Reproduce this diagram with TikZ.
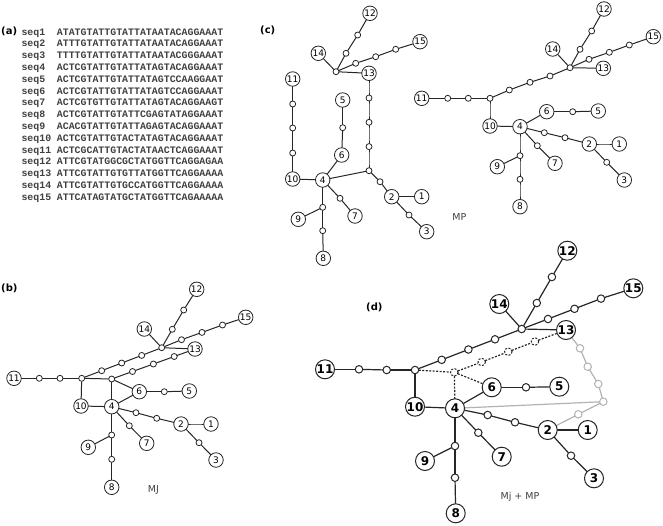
\documentclass[tikz,border=0pt]{standalone}
\usepackage{fontspec}
\setsansfont{DejaVu Sans}
\newfontfamily\seqfont{Liberation Mono}
\usepackage{xcolor}
\usepackage{tikz}
\usepackage{tikz-network}

\SetDefaultUnit{pt}
\tikzset{
  panellabel/.style={font=\sffamily\bfseries\fontsize{10}{10}\selectfont, anchor=west, inner sep=0pt},
  methodlabel/.style={font=\sffamily\fontsize{9.5}{10}\selectfont, text=black!75, inner sep=0pt},
  seqrow/.style={font=\seqfont\bfseries\fontsize{9.9}{11.8}\selectfont, text=black!75, anchor=base west, inner sep=0pt},
  mpdash/.style={dash pattern=on 2pt off 1.5pt},
  mjgray/.style={draw=black!30}
}

\begin{document}
\begin{tikzpicture}[x=1pt,y=1pt]
\useasboundingbox (0,0) rectangle (663,-525);

% (a) sequences
\node[panellabel] (la) at (1,-31.5) {(a)};
\node[seqrow] (seq1) at (21.3,-35.1) {\makebox[35.4pt][l]{seq1}ATATGTATTGTATTATAATACAGGAAAT};
\node[seqrow] (seq2) at (21.3,-46.9) {\makebox[35.4pt][l]{seq2}ATTTGTATTGTATTATAATACAGGAAAT};
\node[seqrow] (seq3) at (21.3,-58.7) {\makebox[35.4pt][l]{seq3}TTTTGTATTGTATTATAATACGGGAAAT};
\node[seqrow] (seq4) at (21.3,-70.5) {\makebox[35.4pt][l]{seq4}ACTCGTATTGTATTATAGTACAGGAAAT};
\node[seqrow] (seq5) at (21.3,-82.3) {\makebox[35.4pt][l]{seq5}ACTCGTATTGTATTATAGTCCAAGGAAT};
\node[seqrow] (seq6) at (21.3,-94.1) {\makebox[35.4pt][l]{seq6}ACTCGTATTGTATTATAGTCCAGGAAAT};
\node[seqrow] (seq7) at (21.3,-105.9) {\makebox[35.4pt][l]{seq7}ACTCGTGTTGTATTATAGTACAGGAAGT};
\node[seqrow] (seq8) at (21.3,-117.7) {\makebox[35.4pt][l]{seq8}ACTCGTATTGTATTCGAGTATAGGAAAT};
\node[seqrow] (seq9) at (21.3,-129.5) {\makebox[35.4pt][l]{seq9}ACACGTATTGTATTAGAGTACAGGAAAT};
\node[seqrow] (seq10) at (21.3,-141.3) {\makebox[35.4pt][l]{seq10}ACTCGTATTGTACTATAGTACAGGAAAT};
\node[seqrow] (seq11) at (21.3,-153.1) {\makebox[35.4pt][l]{seq11}ACTCGCATTGTACTATAACTCAGGAAAT};
\node[seqrow] (seq12) at (21.3,-164.9) {\makebox[35.4pt][l]{seq12}ATTCGTATGGCGCTATGGTTCAGGAGAA};
\node[seqrow] (seq13) at (21.3,-176.7) {\makebox[35.4pt][l]{seq13}ATTCGTATTGTGTTATGGTTCAGGAAAA};
\node[seqrow] (seq14) at (21.3,-188.5) {\makebox[35.4pt][l]{seq14}ATTCGTATTGTGCCATGGTTCAGGAAAA};
\node[seqrow] (seq15) at (21.3,-200.3) {\makebox[35.4pt][l]{seq15}ATTCATAGTATGCTATGGTTCAGAAAAA};

\SetVertexStyle[Shape=circle, MinSize=14.5pt, LineWidth=0.8pt, LineColor=black!85, FillColor=white, TextFont=\sffamily\fontsize{9}{9}\selectfont, TextColor=black, InnerSep=0pt, OuterSep=0pt]
\SetEdgeStyle[LineWidth=1pt, Color=black!85]

% (c) MP, left
\node[panellabel] (lc) at (260,-30) {(c)};
\Vertex[x=292.7, y=-79, label=11]{c11}
\Vertex[x=292.7, y=-104, size=6]{cs1}
\Vertex[x=292.7, y=-128, size=6]{cs2}
\Vertex[x=292.7, y=-153, size=6]{cs3}
\Vertex[x=292.7, y=-179, label=10]{c10}
\Vertex[x=322.7, y=-180, label=4]{c4}
\Vertex[x=342.7, y=-100, label=5]{c5}
\Vertex[x=342.7, y=-127.7, size=6]{cs4}
\Vertex[x=341.7, y=-155, label=6]{c6}
\Vertex[x=369, y=-73.3, label=13]{c13}
\Vertex[x=369, y=-98, size=6]{cs5}
\Vertex[x=369, y=-122.3, size=6]{cs6}
\Vertex[x=369, y=-146.6, size=6]{cs7}
\Vertex[x=369, y=-170.7, size=6]{cJ}
\Vertex[x=380, y=-181.7, size=6]{cs8}
\Vertex[x=391.7, y=-196.7, label=2]{c2}
\Vertex[x=421.7, y=-196.7, label=1]{c1}
\Vertex[x=409, y=-215, size=6]{cs9}
\Vertex[x=426.7, y=-231.7, label=3]{c3}
\Vertex[x=340, y=-198.3, size=6]{cs10}
\Vertex[x=355, y=-216, label=7]{c7}
\Vertex[x=322.7, y=-207.3, size=6]{cs11}
\Vertex[x=298.3, y=-219.3, label=9]{c9}
\Vertex[x=322.7, y=-230.7, size=6]{cs12}
\Vertex[x=323.3, y=-258.3, label=8]{c8}
\Vertex[x=318.3, y=-53.3, label=14]{c14}
\Vertex[x=336, y=-71.7, size=6]{cH}
\Vertex[x=346, y=-53.3, size=6]{cs13}
\Vertex[x=357.7, y=-35, size=6]{cs14}
\Vertex[x=370, y=-13.3, label=12]{c12}
\Vertex[x=355.7, y=-63.3, size=6]{cs15}
\Vertex[x=375.7, y=-56.7, size=6]{cs16}
\Vertex[x=395.7, y=-49.3, size=6]{cs17}
\Vertex[x=420, y=-41.7, label=15]{c15}
\Edge(c11)(cs1)
\Edge(cs1)(cs2)
\Edge(cs2)(cs3)
\Edge(cs3)(c10)
\Edge(c10)(c4)
\Edge(c4)(c6)
\Edge(c6)(cs4)
\Edge(cs4)(c5)
\Edge(c4)(cJ)
\Edge(cJ)(cs7)
\Edge(cs7)(cs6)
\Edge(cs6)(cs5)
\Edge(cs5)(c13)
\Edge(cJ)(cs8)
\Edge(cs8)(c2)
\Edge(c2)(c1)
\Edge(c2)(cs9)
\Edge(cs9)(c3)
\Edge(c4)(cs10)
\Edge(cs10)(c7)
\Edge(c4)(cs11)
\Edge(cs11)(c9)
\Edge(cs11)(cs12)
\Edge(cs12)(c8)
\Edge(c13)(cH)
\Edge(cH)(c14)
\Edge(cH)(cs13)
\Edge(cs13)(cs14)
\Edge(cs14)(c12)
\Edge(cH)(cs15)
\Edge(cs15)(cs16)
\Edge(cs16)(cs17)
\Edge(cs17)(c15)

% (c) MP, right
\Vertex[x=421.7, y=-98.3, label=11]{r11}
\Vertex[x=447.7, y=-98.3, size=6]{rs1}
\Vertex[x=468.3, y=-98.3, size=6]{rs2}
\Vertex[x=490, y=-98.3, size=6]{rK}
\Vertex[x=509.3, y=-90, size=6]{rs3}
\Vertex[x=530, y=-82.3, size=6]{rs4}
\Vertex[x=550, y=-76, size=6]{rs5}
\Vertex[x=570, y=-67.7, size=6]{rH}
\Vertex[x=552.7, y=-49, label=14]{r14}
\Vertex[x=603.3, y=-68.3, label=13]{r13}
\Vertex[x=580, y=-49.3, size=6]{rs6}
\Vertex[x=591.7, y=-31, size=6]{rs7}
\Vertex[x=604, y=-9, label=12]{r12}
\Vertex[x=589, y=-59.3, size=6]{rs8}
\Vertex[x=609.3, y=-52.3, size=6]{rs9}
\Vertex[x=629.3, y=-45, size=6]{rs10}
\Vertex[x=653.3, y=-36.7, label=15]{r15}
\Vertex[x=490, y=-126, label=10]{r10}
\Vertex[x=520, y=-126.7, label=4]{r4}
\Vertex[x=546.7, y=-111.7, label=6]{r6}
\Vertex[x=572.7, y=-111.7, size=6]{rs11}
\Vertex[x=598.3, y=-111, label=5]{r5}
\Vertex[x=544.3, y=-132.7, size=6]{rs12}
\Vertex[x=565, y=-137.7, size=6]{rs13}
\Vertex[x=589.3, y=-144, label=2]{r2}
\Vertex[x=619.3, y=-144, label=1]{r1}
\Vertex[x=606.7, y=-162.3, size=6]{rs14}
\Vertex[x=624.3, y=-180, label=3]{r3}
\Vertex[x=537.3, y=-145.7, size=6]{rs15}
\Vertex[x=555, y=-163.3, label=7]{r7}
\Vertex[x=520, y=-155.7, size=6]{rs16}
\Vertex[x=497.3, y=-166.7, label=9]{r9}
\Vertex[x=520, y=-179.3, size=6]{rs17}
\Vertex[x=520, y=-206.7, label=8]{r8}
\Edge(r11)(rs1)
\Edge(rs1)(rs2)
\Edge(rs2)(rK)
\Edge(rK)(r10)
\Edge(rK)(rs3)
\Edge(rs3)(rs4)
\Edge(rs4)(rs5)
\Edge(rs5)(rH)
\Edge(rH)(r14)
\Edge(rH)(r13)
\Edge(rH)(rs6)
\Edge(rs6)(rs7)
\Edge(rs7)(r12)
\Edge(rH)(rs8)
\Edge(rs8)(rs9)
\Edge(rs9)(rs10)
\Edge(rs10)(r15)
\Edge(r10)(r4)
\Edge(r4)(r6)
\Edge(r6)(rs11)
\Edge(rs11)(r5)
\Edge(r4)(rs12)
\Edge(rs12)(rs13)
\Edge(rs13)(r2)
\Edge(r2)(r1)
\Edge(r2)(rs14)
\Edge(rs14)(r3)
\Edge(r4)(rs15)
\Edge(rs15)(r7)
\Edge(r4)(rs16)
\Edge(rs16)(r9)
\Edge(rs16)(rs17)
\Edge(rs17)(r8)
\node[methodlabel] (lmp) at (459.3,-216.7) {MP};

% (b) MJ
\node[panellabel] (lb) at (1,-288) {(b)};
\Vertex[x=14, y=-378.3, label=11]{b11}
\Vertex[x=39.3, y=-378.3, size=6]{bs1}
\Vertex[x=60, y=-378.3, size=6]{bs2}
\Vertex[x=81.7, y=-378.3, size=6]{bK}
\Vertex[x=101.7, y=-370.7, size=6]{bs3}
\Vertex[x=121.7, y=-363, size=6]{bs4}
\Vertex[x=141.7, y=-355.4, size=6]{bs5}
\Vertex[x=161.7, y=-347.7, size=6]{bH}
\Vertex[x=144.3, y=-329, label=14]{b14}
\Vertex[x=195, y=-349, label=13]{b13}
\Vertex[x=172.3, y=-329.3, size=6]{bs6}
\Vertex[x=183.7, y=-310, size=6]{bs7}
\Vertex[x=196.7, y=-289.3, label=12]{b12}
\Vertex[x=181.5, y=-339.7, size=6]{bs8}
\Vertex[x=202, y=-332.4, size=6]{bs9}
\Vertex[x=222.5, y=-325, size=6]{bs10}
\Vertex[x=245.7, y=-317.3, label=15]{b15}
\Vertex[x=111.7, y=-379, size=6]{bM}
\Vertex[x=132.5, y=-371.5, size=6]{bs11}
\Vertex[x=153.4, y=-364, size=6]{bs12}
\Vertex[x=174.2, y=-356.5, size=6]{bs13}
\Vertex[x=81, y=-406, label=10]{b10}
\Vertex[x=111.7, y=-406.7, label=4]{b4}
\Vertex[x=139.3, y=-391.7, label=6]{b6}
\Vertex[x=164.3, y=-391.7, size=6]{bs14}
\Vertex[x=189.3, y=-391, label=5]{b5}
\Vertex[x=136, y=-412.7, size=6]{bs15}
\Vertex[x=156.7, y=-418.3, size=6]{bs16}
\Vertex[x=181, y=-424, label=2]{b2}
\Vertex[x=211, y=-424, label=1]{b1}
\Vertex[x=199, y=-442.7, size=6]{bs17}
\Vertex[x=216, y=-460, label=3]{b3}
\Vertex[x=129.3, y=-425.7, size=6]{bs18}
\Vertex[x=146.7, y=-443.3, label=7]{b7}
\Vertex[x=111.7, y=-435, size=6]{bs19}
\Vertex[x=88.3, y=-447.3, label=9]{b9}
\Vertex[x=111.7, y=-459.3, size=6]{bs20}
\Vertex[x=111.7, y=-487.3, label=8]{b8}
\Edge(b11)(bs1)
\Edge(bs1)(bs2)
\Edge(bs2)(bK)
\Edge(bK)(b10)
\Edge(bK)(bs3)
\Edge(bs3)(bs4)
\Edge(bs4)(bs5)
\Edge(bs5)(bH)
\Edge(bH)(b14)
\Edge(bH)(b13)
\Edge(bH)(bs6)
\Edge(bs6)(bs7)
\Edge(bs7)(b12)
\Edge(bH)(bs8)
\Edge(bs8)(bs9)
\Edge(bs9)(bs10)
\Edge(bs10)(b15)
\Edge(bK)(bM)
\Edge(bM)(b6)
\Edge(bM)(b4)
\Edge(bM)(bs11)
\Edge(bs11)(bs12)
\Edge(bs12)(bs13)
\Edge(bs13)(b13)
\Edge(b10)(b4)
\Edge(b4)(b6)
\Edge(b6)(bs14)
\Edge(bs14)(b5)
\Edge(b4)(bs15)
\Edge(bs15)(bs16)
\Edge(bs16)(b2)
\Edge(b2)(b1)
\Edge(b2)(bs17)
\Edge(bs17)(b3)
\Edge(b4)(bs18)
\Edge(bs18)(b7)
\Edge(b4)(bs19)
\Edge(bs19)(b9)
\Edge(bs19)(bs20)
\Edge(bs20)(b8)
\node[methodlabel] (lmj) at (153.3,-490) {MJ};

% (d) MJ + MP
\SetVertexStyle[Shape=circle, MinSize=19pt, LineWidth=1pt, LineColor=black!85, FillColor=white, TextFont=\sffamily\bfseries\fontsize{12}{12}\selectfont, TextColor=black, InnerSep=0pt, OuterSep=0pt]
\SetEdgeStyle[LineWidth=1.2pt, Color=black!85]
\node[panellabel] (ld) at (366,-307) {(d)};
\Vertex[x=325, y=-369.3, label=11]{d11}
\Vertex[x=359, y=-369.3, size=7.5]{ds1}
\Vertex[x=386.7, y=-370, size=7.5]{ds2}
\Vertex[x=415, y=-370, size=7.5]{dK}
\Vertex[x=441.7, y=-359.8, size=7.5]{ds3}
\Vertex[x=468.4, y=-349.5, size=7.5]{ds4}
\Vertex[x=495, y=-339.3, size=7.5]{ds5}
\Vertex[x=521.7, y=-329, size=7.5]{dH}
\Vertex[x=499.3, y=-304, label=14]{d14}
\Vertex[x=566, y=-330, label=13]{d13}
\Vertex[x=536.8, y=-303, size=7.5]{ds6}
\Vertex[x=551.9, y=-277, size=7.5]{ds7}
\Vertex[x=567.3, y=-250.7, label=12]{d12}
\Vertex[x=548, y=-319, size=7.5]{ds8}
\Vertex[x=574.5, y=-308.8, size=7.5]{ds9}
\Vertex[x=601, y=-298.6, size=7.5]{ds10}
\Vertex[x=633.3, y=-288.3, label=15]{d15}
\Vertex[x=454.3, y=-372.3, size=7.5, style={mpdash}]{dM}
\Vertex[x=481.7, y=-362, size=7.5, style={mpdash}]{ds11}
\Vertex[x=508.3, y=-351.7, size=7.5, style={mpdash}]{ds12}
\Vertex[x=535, y=-341.5, size=7.5, style={mpdash}]{ds13}
\Vertex[x=415, y=-406.7, label=10]{d10}
\Vertex[x=455, y=-408.3, label=4]{d4}
\Vertex[x=491.7, y=-387.3, label=6]{d6}
\Vertex[x=526, y=-387.3, size=7.5]{ds14}
\Vertex[x=559.3, y=-386.7, label=5]{d5}
\Vertex[x=487.7, y=-415, size=7.5]{ds15}
\Vertex[x=515, y=-422.3, size=7.5]{ds16}
\Vertex[x=547.7, y=-430, label=2]{d2}
\Vertex[x=587.7, y=-430, label=1]{d1}
\Vertex[x=571, y=-455.7, size=7.5]{ds17}
\Vertex[x=594, y=-478.3, label=3]{d3}
\Vertex[x=478.3, y=-432.7, size=7.5]{ds18}
\Vertex[x=501.7, y=-456.7, label=7]{d7}
\Vertex[x=455, y=-446, size=7.5]{ds19}
\Vertex[x=425, y=-461, label=9]{d9}
\Vertex[x=455, y=-477.7, size=7.5]{ds20}
\Vertex[x=455.7, y=-513.3, label=8]{d8}
\Vertex[x=580, y=-348.3, size=7.5, style={mjgray}]{dg1}
\Vertex[x=587.7, y=-366.7, size=7.5, style={mjgray}]{dg2}
\Vertex[x=598.3, y=-384, size=7.5, style={mjgray}]{dg3}
\Vertex[x=603.3, y=-401.7, size=7.5, style={mjgray}]{dG}
\Vertex[x=578.3, y=-414.3, size=7.5, style={mjgray}]{dg4}
\Edge(d11)(ds1)
\Edge(ds1)(ds2)
\Edge(ds2)(dK)
\Edge(dK)(d10)
\Edge(dK)(ds3)
\Edge(ds3)(ds4)
\Edge(ds4)(ds5)
\Edge(ds5)(dH)
\Edge(dH)(d14)
\Edge(dH)(d13)
\Edge(dH)(ds6)
\Edge(ds6)(ds7)
\Edge(ds7)(d12)
\Edge(dH)(ds8)
\Edge(ds8)(ds9)
\Edge(ds9)(ds10)
\Edge(ds10)(d15)
\Edge[style={mpdash}](dK)(dM)
\Edge[style={mpdash}](dM)(d6)
\Edge[style={mpdash}](dM)(d4)
\Edge[style={mpdash}](dM)(ds11)
\Edge[style={mpdash}](ds11)(ds12)
\Edge[style={mpdash}](ds12)(ds13)
\Edge[style={mpdash}](ds13)(d13)
\Edge(d10)(d4)
\Edge(d4)(d6)
\Edge(d6)(ds14)
\Edge(ds14)(d5)
\Edge(d4)(ds15)
\Edge(ds15)(ds16)
\Edge(ds16)(d2)
\Edge(d2)(d1)
\Edge(d2)(ds17)
\Edge(ds17)(d3)
\Edge(d4)(ds18)
\Edge(ds18)(d7)
\Edge(d4)(ds19)
\Edge(ds19)(d9)
\Edge(ds19)(ds20)
\Edge(ds20)(d8)
\Edge[color=black!30](d13)(dg1)
\Edge[color=black!30](dg1)(dg2)
\Edge[color=black!30](dg2)(dg3)
\Edge[color=black!30](dg3)(dG)
\Edge[color=black!30](dG)(d4)
\Edge[color=black!30](dG)(dg4)
\Edge[color=black!30](dg4)(d2)
\node[methodlabel] (lmjmp) at (520,-496.7) {Mj + MP};
\end{tikzpicture}
\end{document}
